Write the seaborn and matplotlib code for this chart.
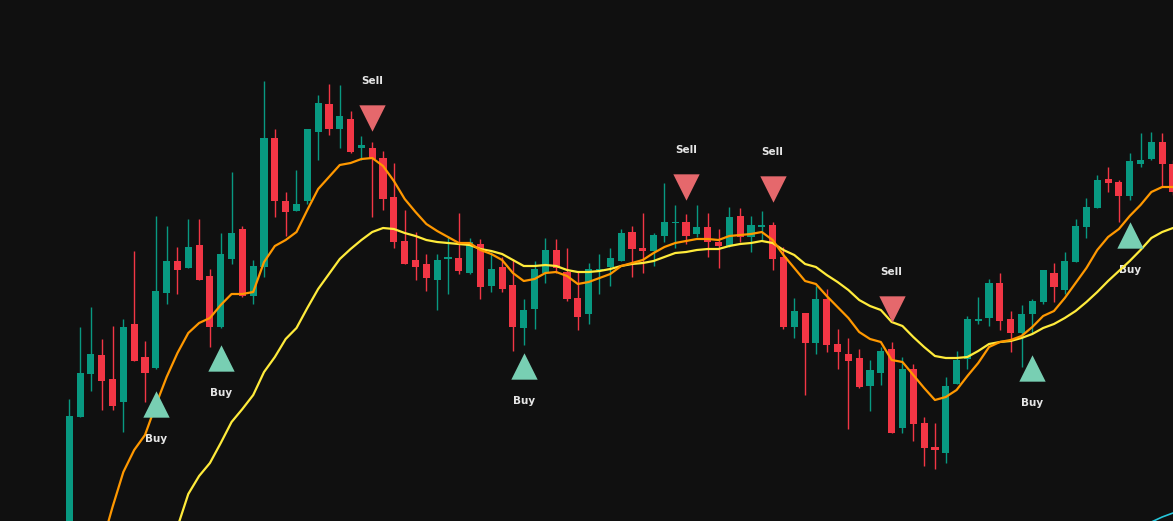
import numpy as np
import pandas as pd
import matplotlib
matplotlib.use("Agg")
import matplotlib.pyplot as plt
import seaborn as sns

# candle OHLC values
opens = [60, 183, 226, 245, 221, 198, 276, 243, 232, 307, 339, 332, 355, 324, 273, 341, 371, 304, 333, 462,
         399, 389, 399, 468, 496, 471, 481, 452, 452, 442, 403, 359, 340, 336, 320, 341, 342, 327, 356, 314,
         333, 315, 272, 291, 327, 350, 328, 302, 286, 330, 333, 339, 368, 352, 349, 364, 377, 378, 366, 373,
         358, 354, 384, 363, 373, 375, 343, 273, 287, 257, 301, 256, 246, 242, 214, 227, 251, 172, 231, 177,
         153, 147, 216, 241, 279, 282, 317, 281, 267, 286, 298, 327, 310, 338, 373, 392, 421, 418, 404, 436,
         441, 458, 436]
highs = [201, 273, 293, 261, 274, 281, 349, 259, 384, 374, 353, 381, 381, 331, 367, 428, 374, 340, 519, 471,
         408, 430, 471, 505, 516, 515, 489, 464, 458, 449, 437, 390, 368, 346, 346, 364, 387, 362, 361, 348,
         343, 341, 301, 339, 362, 361, 352, 328, 337, 346, 352, 371, 374, 387, 367, 417, 395, 386, 395, 387,
         371, 393, 392, 384, 389, 378, 353, 302, 287, 314, 311, 271, 262, 251, 240, 253, 258, 243, 236, 183,
         177, 223, 249, 284, 303, 321, 327, 289, 295, 301, 330, 337, 348, 381, 402, 425, 433, 420, 447, 467,
         468, 467, 440]
lows = [55, 183, 209, 190, 190, 168, 239, 198, 231, 296, 306, 332, 320, 253, 272, 336, 303, 296, 323, 383,
        364, 389, 396, 440, 465, 452, 447, 440, 383, 390, 352, 336, 320, 309, 290, 306, 326, 326, 301, 308,
        308, 249, 255, 271, 317, 327, 299, 270, 276, 306, 314, 339, 323, 327, 334, 358, 352, 356, 363, 343,
        332, 353, 358, 348, 359, 330, 271, 262, 205, 246, 248, 231, 171, 212, 189, 215, 167, 167, 159, 134,
        131, 137, 216, 231, 276, 274, 270, 248, 233, 267, 296, 298, 306, 338, 362, 392, 408, 378, 400, 433,
        440, 414, 405]
closes = [184, 227, 246, 219, 194, 273, 239, 227, 309, 339, 330, 353, 320, 273, 346, 367, 304, 334, 462, 399,
          388, 396, 471, 497, 471, 484, 448, 455, 441, 401, 358, 336, 333, 322, 340, 343, 329, 358, 313, 331,
          311, 273, 290, 331, 350, 332, 301, 283, 331, 331, 342, 367, 351, 349, 365, 378, 378, 364, 373, 358,
          354, 383, 363, 375, 375, 341, 273, 289, 257, 301, 255, 248, 239, 213, 230, 249, 167, 231, 176, 152,
          150, 214, 240, 281, 281, 317, 279, 267, 286, 299, 330, 313, 339, 374, 393, 420, 417, 404, 439, 440,
          458, 436, 408]

nan = np.nan
ma_fast = [nan, nan, nan, 55, 93, 128, 150, 165, 195, 223, 247, 267, 277, 282, 295, 306, 306, 308, 338, 354,
           360, 368, 390, 411, 423, 435, 437, 441, 442, 434, 419, 401, 388, 376, 369, 363, 357, 357, 350, 346,
           340, 327, 319, 321, 327, 328, 324, 316, 318, 322, 326, 334, 337, 340, 347, 353, 357, 359, 361, 361,
           360, 364, 365, 366, 368, 360, 345, 332, 319, 316, 304, 293, 282, 268, 261, 258, 240, 238, 225, 212,
           200, 203, 210, 224, 237, 253, 258, 260, 264, 273, 284, 289, 302, 317, 332, 350, 363, 371, 384, 395,
           408, 413, 413]
ma_slow = [nan] * 10 + [73, 106, 124, 137, 157, 178, 191, 205, 228, 243,
           261, 272, 292, 311, 326, 341, 351, 360, 368, 372, 371, 367, 364, 360, 358, 357, 356, 355, 351, 349,
           346, 340, 334, 334, 335, 334, 330, 328, 328, 329, 331, 334, 336, 337, 339, 343, 347, 348, 350, 351,
           351, 354, 356, 357, 359, 357, 350, 345, 336, 333, 325, 318, 310, 300, 294, 290, 278, 274, 263, 253,
           244, 242, 242, 243, 249, 256, 258, 259, 262, 266, 272, 276, 282, 289, 298, 308, 319, 329, 339, 350,
           362, 368, 372]
ma_long = [nan] * 99 + [74, 78, 83, 87]

buy_idx = [8, 14, 42, 89, 98]
buy_price = [196, 242, 234, 232, 365]
sell_idx = [28, 57, 65, 76]
sell_price = [482.5, 413.5, 411.5, 291.5]

BG = "#101010"
UP, DOWN = "#089981", "#f23645"

sns.set_theme(style="dark")
plt.rcParams["font.family"] = ["DejaVu Sans"]

df = pd.DataFrame({"open": opens, "high": highs, "low": lows, "close": closes,
                   "fast": ma_fast, "slow": ma_slow, "long": ma_long})
df["i"] = np.arange(len(df))
up = df["close"] >= df["open"]
colors = np.where(up, UP, DOWN)

fig = plt.figure(figsize=(11.73, 5.21), dpi=100, facecolor=BG)
ax = fig.add_axes([0, 0, 1, 1])
ax.set_facecolor(BG)

ax.vlines(df["i"], df["low"], df["high"], colors=colors, lw=1.0, zorder=2)
body_lo = df[["open", "close"]].min(axis=1)
body_h = (df["close"] - df["open"]).abs().clip(lower=1.5)
ax.bar(df["i"], body_h, bottom=body_lo, width=0.66, color=colors, lw=0, zorder=3)

sns.lineplot(data=df, x="i", y="slow", color="#ffeb3b", lw=1.6, ax=ax, zorder=4)
sns.lineplot(data=df, x="i", y="fast", color="#ff9800", lw=1.6, ax=ax, zorder=4)
sns.lineplot(data=df, x="i", y="long", color="#26c6da", lw=1.2, ax=ax, zorder=4)

ax.scatter(buy_idx, buy_price, marker="^", s=360, color="#78cfb3", lw=0, zorder=5)
ax.scatter(sell_idx, sell_price, marker="v", s=360, color="#e5686c", lw=0, zorder=5)
for x, y in zip(buy_idx, buy_price):
    ax.annotate("Buy", (x, y), xytext=(0, -25), textcoords="offset points",
                ha="center", va="center", color="#e6e6e6", fontsize=7.5, fontweight="bold")
for x, y in zip(sell_idx, sell_price):
    ax.annotate("Sell", (x, y), xytext=(0, 26), textcoords="offset points",
                ha="center", va="center", color="#e6e6e6", fontsize=7.5, fontweight="bold")

ax.set_xlim(-6.4, 102.0)
ax.set_ylim(79, 600)
ax.set_axis_off()

fig.savefig("out.png", dpi=100, facecolor=BG)
